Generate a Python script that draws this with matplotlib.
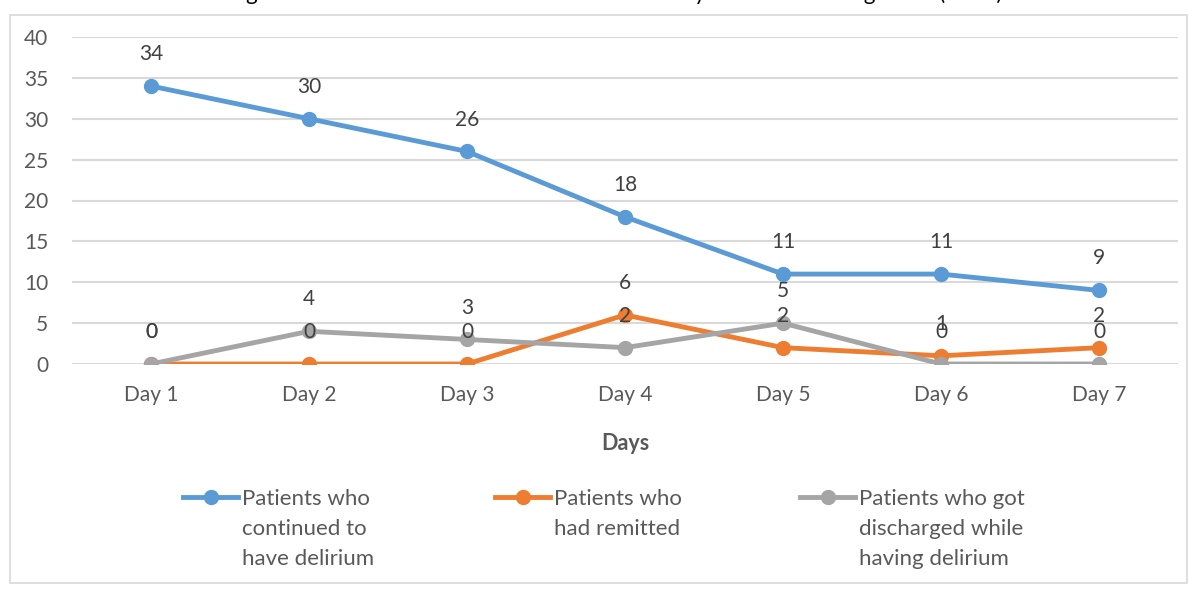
import matplotlib
matplotlib.use("Agg")
import matplotlib.pyplot as plt
from matplotlib.patches import Rectangle
from matplotlib.lines import Line2D

days = ["Day 1", "Day 2", "Day 3", "Day 4", "Day 5", "Day 6", "Day 7"]
continued = [34, 30, 26, 18, 11, 11, 9]
remitted = [0, 0, 0, 6, 2, 1, 2]
discharged = [0, 4, 3, 2, 5, 0, 0]
series_labels = [
    "Patients who\ncontinued to\nhave delirium",
    "Patients who\nhad remitted",
    "Patients who got\ndischarged while\nhaving delirium",
]
colors = ["#5B9BD5", "#ED7D31", "#A5A5A5"]

plt.rcParams["font.family"] = ["Lato", "DejaVu Sans"]
text_color = "#595959"
W, H = 1197, 590

fig = plt.figure(figsize=(11.97, 5.9), dpi=100)
fig.patches.append(Rectangle((10 / W, 1 - 583 / H), 1177 / W, 568 / H,
                             transform=fig.transFigure, fill=False,
                             edgecolor="#D9D9D9", linewidth=1.2))

# title cut off by the crop, only descenders remain
fig.text(0.5, 1.0, "Change in delirium status of the cohort over the days of the following week (n=34)",
         ha="center", va="baseline", fontsize=16, color="#000000")

ax = fig.add_axes([72 / W, 1 - 364 / H, 1106 / W, 327 / H])
x = list(range(len(days)))
for vals, c in zip([continued, remitted, discharged], colors):
    ax.plot(x, vals, color=c, linewidth=3.5, marker="o", markersize=10, zorder=3)
    for xi, v in zip(x, vals):
        ax.annotate(str(v), (xi, v), xytext=(0, 23), textcoords="offset points",
                    ha="center", va="center", fontsize=15, color="#404040", zorder=4)

ax.set_xlim(-0.5, 6.5)
ax.set_ylim(0, 40)
ax.set_yticks(range(0, 41, 5))
ax.set_xticks(x)
ax.set_xticklabels(days)
ax.grid(axis="y", color="#D9D9D9", linewidth=1.5)
ax.set_axisbelow(True)
for s in ax.spines.values():
    s.set_visible(False)
ax.tick_params(axis="both", length=0, labelsize=15, labelcolor=text_color)
ax.tick_params(axis="y", pad=17)
ax.tick_params(axis="x", pad=15)
ax.set_xlabel("Days", fontsize=15.5, fontweight="bold", color=text_color, labelpad=20)

# legend drawn by hand: handle sits at first text line, wide line spacing
leg_x = [183, 495, 800]
leg_y = 497
for lab, c, lx in zip(series_labels, colors, leg_x):
    fig.add_artist(Line2D([lx / W, (lx + 55) / W], [1 - leg_y / H] * 2,
                          transform=fig.transFigure, color=c, linewidth=3.5))
    fig.add_artist(Line2D([(lx + 27.5) / W], [1 - leg_y / H], transform=fig.transFigure,
                          color=c, marker="o", markersize=10))
    fig.text((lx + 59) / W, 1 - (leg_y - 8) / H, lab, ha="left", va="top",
             fontsize=16, color=text_color, linespacing=1.62)

fig.savefig("out.png", dpi=100)
